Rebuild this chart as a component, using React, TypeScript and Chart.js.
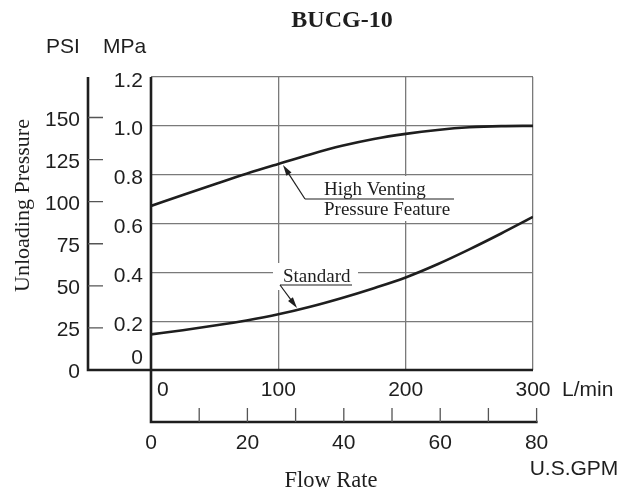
import { useEffect, useRef } from "react";
import { Chart, registerables } from "chart.js";

Chart.register(...registerables);

// ---- data ----
const flowLpm = [0, 25, 50, 75, 100, 125, 150, 175, 200, 225, 250, 275, 300];
const highVentingMpa = [0.672, 0.717, 0.761, 0.804, 0.844, 0.883, 0.918, 0.946, 0.967, 0.983, 0.994, 0.999, 1.0];
const standardMpa = [0.146, 0.163, 0.182, 0.203, 0.228, 0.259, 0.295, 0.335, 0.379, 0.433, 0.494, 0.559, 0.627];

const lpmTicks = [0, 100, 200, 300];
const gpmTicks = [0, 10, 20, 30, 40, 50, 60, 70, 80];
const gpmLabels = [0, 20, 40, 60, 80];
const mpaTicks = [0, 0.2, 0.4, 0.6, 0.8, 1.0, 1.2];
const mpaLabels = ["0", "0.2", "0.4", "0.6", "0.8", "1.0", "1.2"];
const psiTicks = [0, 25, 50, 75, 100, 125, 150];

const PSI_TO_MPA = 0.00689476;
const GPM_TO_LPM = 3.78541;

const SANS = '"Liberation Sans", Arial, Helvetica, sans-serif';
const SERIF = '"Liberation Serif", "Times New Roman", Times, serif';
const INK = "#1e1e1e";

function arrow(ctx: CanvasRenderingContext2D, x1: number, y1: number, x2: number, y2: number) {
  const ang = Math.atan2(y2 - y1, x2 - x1);
  const len = 11;
  const hw = 3;
  ctx.beginPath();
  ctx.moveTo(x1, y1);
  ctx.lineTo(x2 - Math.cos(ang) * len * 0.8, y2 - Math.sin(ang) * len * 0.8);
  ctx.stroke();
  ctx.beginPath();
  ctx.moveTo(x2, y2);
  ctx.lineTo(x2 - Math.cos(ang) * len + Math.sin(ang) * hw, y2 - Math.sin(ang) * len - Math.cos(ang) * hw);
  ctx.lineTo(x2 - Math.cos(ang) * len - Math.sin(ang) * hw, y2 - Math.sin(ang) * len + Math.cos(ang) * hw);
  ctx.closePath();
  ctx.fill();
}

const decorPlugin = {
  id: "decor",
  beforeDatasetsDraw(chart: any) {
    const ctx: CanvasRenderingContext2D = chart.ctx;
    ctx.save();
    ctx.fillStyle = "#ffffff";
    // label backgrounds hiding the grid
    ctx.fillRect(310, 176, 150, 45);
    ctx.fillRect(273, 263, 85, 27);
    ctx.restore();
  },
  afterDraw(chart: any) {
    const ctx: CanvasRenderingContext2D = chart.ctx;
    const xs = chart.scales.x;
    const ys = chart.scales.y;
    const { left, right, top, bottom } = chart.chartArea;
    const psiX = 88;
    const gpmY = 422;
    const gx = (g: number) => xs.getPixelForValue(g * GPM_TO_LPM);
    const py = (p: number) => ys.getPixelForValue(p * PSI_TO_MPA);

    ctx.save();
    // thick axis lines
    ctx.strokeStyle = INK;
    ctx.lineWidth = 2.6;
    ctx.lineCap = "butt";
    ctx.beginPath();
    ctx.moveTo(left, top);
    ctx.lineTo(left, gpmY + 1.3);
    ctx.moveTo(psiX - 1.3, bottom);
    ctx.lineTo(right, bottom);
    ctx.moveTo(psiX, top);
    ctx.lineTo(psiX, bottom);
    ctx.moveTo(left, gpmY);
    ctx.lineTo(gx(80) + 1, gpmY);
    ctx.stroke();

    // PSI ticks
    ctx.strokeStyle = "#555";
    ctx.lineWidth = 1.3;
    ctx.beginPath();
    psiTicks.forEach((p) => {
      if (p === 0) return;
      const y = py(p);
      ctx.moveTo(psiX, y);
      ctx.lineTo(psiX + 15, y);
    });
    // GPM ticks
    gpmTicks.forEach((g) => {
      if (g === 0) return;
      const x = gx(g);
      ctx.moveTo(x, gpmY);
      ctx.lineTo(x, gpmY - 14);
    });
    ctx.stroke();

    // sans labels
    ctx.fillStyle = INK;
    ctx.font = `21px ${SANS}`;
    ctx.textBaseline = "alphabetic";
    ctx.textAlign = "center";
    ctx.fillText("PSI", 63, 52.5);
    ctx.fillText("MPa", 124.5, 52.5);

    ctx.textAlign = "right";
    mpaTicks.forEach((m, i) => {
      const y = m === 0 ? ys.getPixelForValue(m) - 6 : ys.getPixelForValue(m) + 9.5;
      ctx.fillText(mpaLabels[i], 143, y);
    });
    psiTicks.forEach((p) => {
      const y = p === 0 ? py(p) + 8 : py(p) + 8.5;
      ctx.fillText(String(p), 80, y);
    });

    lpmTicks.forEach((l) => {
      const x = xs.getPixelForValue(l);
      if (l === 0) {
        ctx.textAlign = "left";
        ctx.fillText("0", x + 6, 396);
      } else {
        ctx.textAlign = "center";
        ctx.fillText(String(l), x, 396);
      }
    });
    ctx.textAlign = "left";
    ctx.fillText("L/min", 562, 396);

    ctx.textAlign = "center";
    gpmLabels.forEach((g) => {
      ctx.fillText(String(g), gx(g), 448.5);
    });
    ctx.fillText("U.S.GPM", 574, 475);

    // serif texts
    ctx.font = `bold 24px ${SERIF}`;
    ctx.fillText("BUCG-10", (left + right) / 2, 27);

    ctx.font = `22.5px ${SERIF}`;
    ctx.fillText("Flow Rate", 331, 486.5);

    ctx.save();
    ctx.translate(28.5, 205.5);
    ctx.rotate(-Math.PI / 2);
    ctx.font = `22px ${SERIF}`;
    ctx.fillText("Unloading Pressure", 0, 0);
    ctx.restore();

    ctx.font = `19px ${SERIF}`;
    ctx.textAlign = "left";
    ctx.fillText("High Venting", 324, 194.5);
    ctx.fillText("Pressure Feature", 324, 215);
    ctx.fillText("Standard", 283, 281.5);

    // leaders
    ctx.strokeStyle = INK;
    ctx.fillStyle = INK;
    ctx.lineWidth = 1.2;
    ctx.beginPath();
    ctx.moveTo(305, 199);
    ctx.lineTo(454, 199);
    ctx.moveTo(280, 285);
    ctx.lineTo(352, 285);
    ctx.stroke();
    arrow(ctx, 305, 199, 283, 165);
    arrow(ctx, 280, 285, 297, 308);

    ctx.restore();
  },
};

export default function App() {
  const ref = useRef<HTMLCanvasElement | null>(null);

  useEffect(() => {
    if (!ref.current) return;
    const chart = new Chart(ref.current, {
      type: "line",
      data: {
        datasets: [
          {
            label: "High Venting Pressure Feature",
            data: flowLpm.map((f, i) => ({ x: f, y: highVentingMpa[i] })),
            borderColor: INK,
            borderWidth: 2.6,
            pointRadius: 0,
            cubicInterpolationMode: "monotone",
            fill: false,
          },
          {
            label: "Standard",
            data: flowLpm.map((f, i) => ({ x: f, y: standardMpa[i] })),
            borderColor: INK,
            borderWidth: 2.6,
            pointRadius: 0,
            cubicInterpolationMode: "monotone",
            fill: false,
          },
        ],
      },
      options: {
        animation: false,
        responsive: false,
        maintainAspectRatio: false,
        devicePixelRatio: window.devicePixelRatio || 1,
        layout: { padding: { left: 151, right: 101, top: 77, bottom: 120 } },
        plugins: {
          legend: { display: false },
          title: { display: false },
          tooltip: { enabled: false },
        },
        events: [],
        scales: {
          x: {
            type: "linear",
            min: 0,
            max: 300,
            ticks: { display: false, stepSize: 100 },
            grid: { color: "#7a7a7a", lineWidth: 1.3, drawTicks: false },
            border: { display: false },
          },
          y: {
            type: "linear",
            min: 0,
            max: 1.2,
            ticks: { display: false, stepSize: 0.2 },
            grid: { color: "#7a7a7a", lineWidth: 1.3, drawTicks: false },
            border: { display: false },
          },
        },
      },
      plugins: [decorPlugin],
    } as any);
    return () => chart.destroy();
  }, []);

  return (
    <div style={{ position: "absolute", left: 0, top: 0, width: 634, height: 490, background: "#fff" }}>
      <canvas ref={ref} width={634} height={490} style={{ width: 634, height: 490, display: "block" }} />
    </div>
  );
}
